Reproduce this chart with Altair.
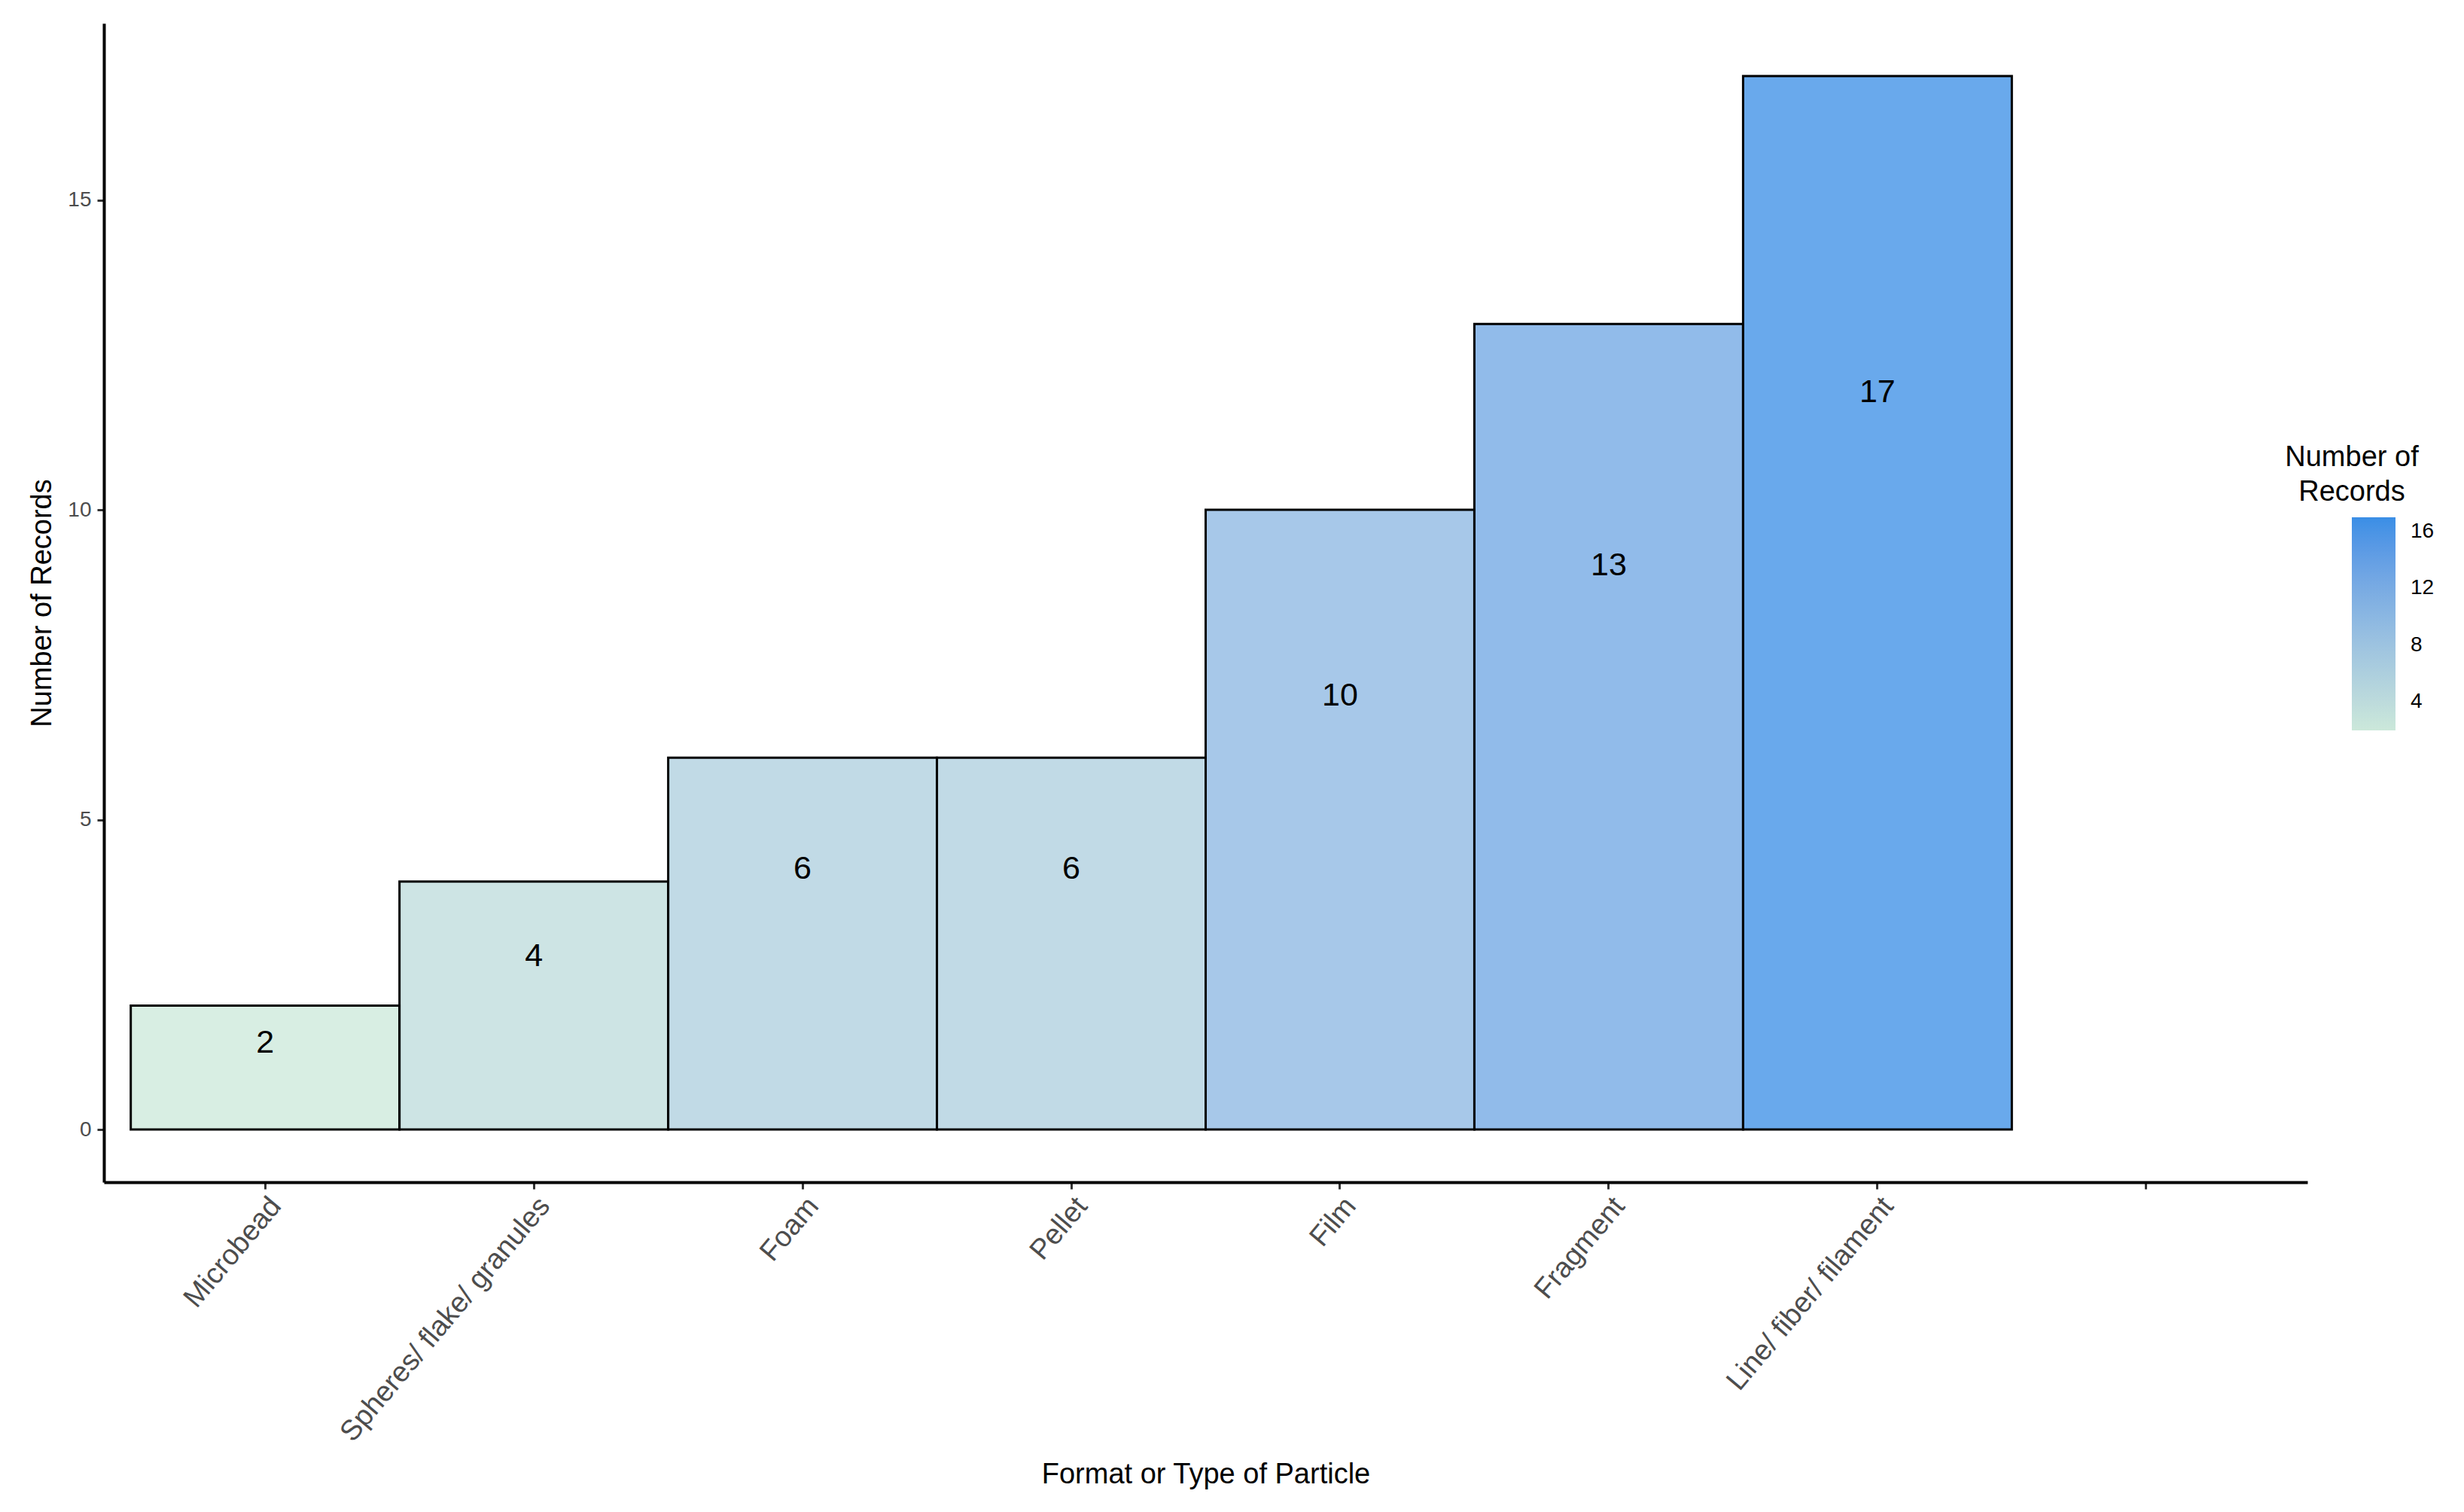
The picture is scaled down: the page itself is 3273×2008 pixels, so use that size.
import altair as alt
import pandas as pd

categories = ["Microbead", "Spheres/ flake/ granules", "Foam", "Pellet",
              "Film", "Fragment", "Line/ fiber/ filament"]
counts = [2, 4, 6, 6, 10, 13, 17]
x_domain = categories + [" "]
y_ticks = [0, 5, 10, 15]
legend_ticks = [4, 8, 12, 16]
color_low = "#cce8da"
color_high = "#3a8ee6"

df = pd.DataFrame({"type": categories, "count": counts})

FONT = "Liberation Sans"

x_enc = alt.X(
    "type:N",
    sort=None,
    scale=alt.Scale(domain=x_domain, paddingInner=0, paddingOuter=0.1),
    axis=alt.Axis(
        title="Format or Type of Particle",
        titleFont=FONT, titleFontSize=38, titleFontWeight="normal", titleColor="black",
        titleY=388, titleBaseline="middle",
        labelFont=FONT, labelFontSize=38, labelColor="#4d4d4d",
        labelAngle=310, labelAlign="right", labelBaseline="top", labelPadding=4,
        labelOverlap=False, labelLimit=0,
        domainColor="black", domainWidth=4,
        tickColor="#333333", tickWidth=3, tickSize=9,
        grid=False,
    ),
)

y_enc = alt.Y(
    "count:Q",
    scale=alt.Scale(domain=[-0.85, 17.85], nice=False, zero=False),
    axis=alt.Axis(
        title="Number of Records",
        titleFont=FONT, titleFontSize=38, titleFontWeight="normal", titleColor="black",
        titleX=-82, titleBaseline="middle", titleAngle=270,
        values=y_ticks, format="d",
        labelFont=FONT, labelFontSize=28, labelColor="#4d4d4d", labelPadding=8,
        domainColor="black", domainWidth=4,
        tickColor="#333333", tickWidth=3, tickSize=9,
        grid=False,
    ),
)

color_enc = alt.Color(
    "count:Q",
    scale=alt.Scale(domain=[2, 17], range=[color_low, color_high], interpolate="lab"),
    legend=alt.Legend(
        title=["Number of", "Records"],
        orient="none", legendX=2897, legendY=558,
        direction="vertical",
        gradientLength=283, gradientThickness=58, gradientStrokeWidth=0,
        values=legend_ticks,
        titleFont=FONT, titleFontSize=38, titleFontWeight="normal", titleColor="black",
        titleAlign="center", titleAnchor="start", titleLineHeight=46, titlePadding=14,
        labelFont=FONT, labelFontSize=28, labelColor="black", labelOffset=20,
    ),
)

bars = alt.Chart(df).mark_bar(stroke="black", strokeWidth=3, fillOpacity=0.76).encode(
    x=x_enc,
    y=y_enc,
    y2=alt.datum(0),
    color=color_enc,
)

labels = alt.Chart(df).transform_calculate(
    label_y="datum.count * 0.7"
).mark_text(font=FONT, fontSize=43, color="black", baseline="middle", align="center").encode(
    x=alt.X("type:N", sort=None, scale=alt.Scale(domain=x_domain, paddingInner=0, paddingOuter=0.1)),
    y=alt.Y("label_y:Q", scale=alt.Scale(domain=[-0.85, 17.85], nice=False, zero=False)),
    text="count:Q",
)

chart = alt.layer(bars, labels).properties(
    width=2927,
    height=1539,
    padding={"left": 130, "top": 23, "right": 200, "bottom": 430},
    autosize=alt.AutoSizeParams(type="none"),
    background="white",
).configure_view(stroke=None)

chart.save("out.html", embed_options={"renderer": "svg", "actions": False})
